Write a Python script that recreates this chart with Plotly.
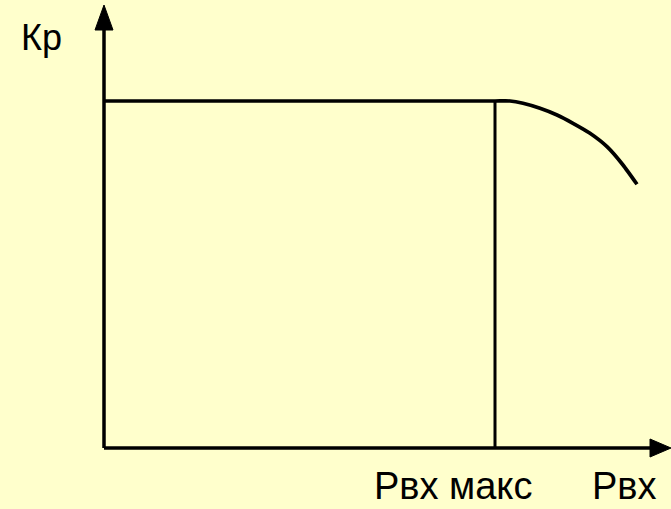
import plotly.graph_objects as go

# Schematic data (arbitrary units)
kp_level = 3.47
p_max = 3.91
curve_p = [0.0, 3.91, 4.06, 4.19, 4.36, 4.53, 4.69, 4.86, 5.03, 5.19, 5.33]
curve_kp = [3.47, 3.47, 3.47, 3.447, 3.397, 3.33, 3.247, 3.147, 3.013, 2.83, 2.637]
x_axis_end = 5.67
y_axis_end = 4.43
labels = ["Кр", "Рвх макс", "Рвх"]

BG = "#FFFFCC"
fig = go.Figure()

# axes lines
fig.add_trace(go.Scatter(x=[0, 0], y=[0, y_axis_end - 0.22], mode="lines",
                         line=dict(color="black", width=3.5), hoverinfo="skip"))
fig.add_trace(go.Scatter(x=[0, x_axis_end - 0.2], y=[0, 0], mode="lines",
                         line=dict(color="black", width=3.5), hoverinfo="skip"))
# arrow heads
fig.add_trace(go.Scatter(x=[-0.09, 0, 0.09, -0.09], y=[y_axis_end - 0.25, y_axis_end, y_axis_end - 0.25, y_axis_end - 0.25],
                         mode="lines", fill="toself", fillcolor="black",
                         line=dict(color="black", width=1), hoverinfo="skip"))
fig.add_trace(go.Scatter(x=[x_axis_end - 0.21, x_axis_end, x_axis_end - 0.21, x_axis_end - 0.21], y=[0.09, 0, -0.09, 0.09],
                         mode="lines", fill="toself", fillcolor="black",
                         line=dict(color="black", width=1), hoverinfo="skip"))
# curve
fig.add_trace(go.Scatter(x=curve_p, y=curve_kp, mode="lines",
                         line=dict(color="black", width=3.7, shape="spline", smoothing=0.5), hoverinfo="skip"))
# vertical line at P max
fig.add_trace(go.Scatter(x=[p_max, p_max], y=[0, kp_level], mode="lines",
                         line=dict(color="black", width=3), hoverinfo="skip"))

fam = "Liberation Sans, Arial, sans-serif"
fig.add_annotation(x=-0.85, y=4.105, text=labels[0], showarrow=False, xanchor="left", yanchor="middle",
                   font=dict(family=fam, size=36, color="black"))
fig.add_annotation(x=3.49, y=-0.375, text=labels[1], showarrow=False, xanchor="center", yanchor="middle",
                   font=dict(family=fam, size=38, color="black"))
fig.add_annotation(x=5.20, y=-0.375, text=labels[2], showarrow=False, xanchor="center", yanchor="middle",
                   font=dict(family=fam, size=38, color="black"))

fig.update_layout(
    width=671, height=509, margin=dict(l=0, r=0, t=0, b=0),
    paper_bgcolor=BG, plot_bgcolor=BG, showlegend=False,
    xaxis=dict(range=[-1.04, 5.67], visible=False, fixedrange=True),
    yaxis=dict(range=[-0.61, 4.48], visible=False, fixedrange=True),
)
fig.write_html("out.html", config={"displayModeBar": False},
               post_script="document.body.style.margin='0';document.body.style.background='#FFFFCC';")
